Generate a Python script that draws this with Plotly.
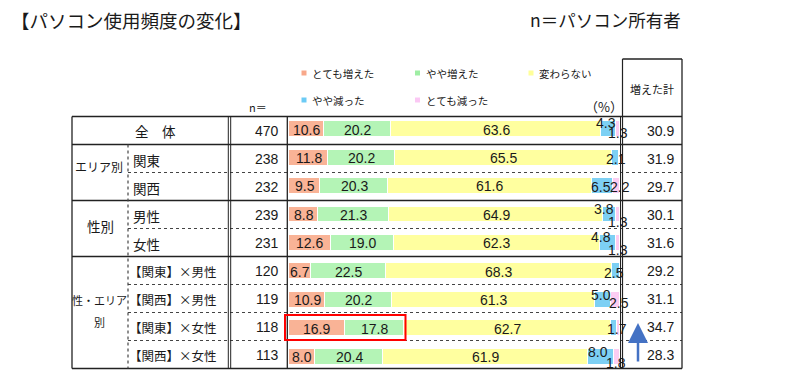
import plotly.graph_objects as go

W, H = 810, 377

# ---------------- data ----------------
group_labels = ["全　体", "エリア別", "性別", "性・エリア<br>別"]
row_labels = ["", "関東", "関西", "男性", "女性",
              "【関東】×男性", "【関西】×男性", "【関東】×女性", "【関西】×女性"]
n_values = [470, 238, 232, 239, 231, 120, 119, 118, 113]
series_names = ["とても増えた", "やや増えた", "変わらない", "やや減った", "とても減った"]
very_inc = [10.6, 11.8, 9.5, 8.8, 12.6, 6.7, 10.9, 16.9, 8.0]
some_inc = [20.2, 20.2, 20.3, 21.3, 19.0, 22.5, 20.2, 17.8, 20.4]
no_change = [63.6, 65.5, 61.6, 64.9, 62.3, 68.3, 61.3, 62.7, 61.9]
some_dec = [4.3, 2.1, 6.5, 3.8, 4.8, 2.5, 5.0, 1.7, 8.0]
very_dec = [1.3, 0.4, 2.2, 1.3, 1.3, 0.0, 2.5, 0.8, 1.8]
inc_total = [30.9, 31.9, 29.7, 30.1, 31.6, 29.2, 31.1, 34.7, 28.3]

# ---------------- style ----------------
colors = ["#F9B396", "#B4F4B6", "#FFFF9F", "#7DD0F4", "#FCCDF2"]
legend_colors = ["#F8A88A", "#9FEEA4", "#FFFF99", "#6CCBF5", "#FBC8F4"]
# label offsets (px) for small segments: dx right, dy down
blue_dx = [-2.5, 1, -1, -5.5, -6.5, -1.5, -2, 3, -3]
blue_dy = [-6.5, 1, 0.5, -6, -6.5, 1.5, -5, 0.5, -5]
pink_dx = [0, 0, 3, 0, 0, 0, 3, 0, -1.5]
pink_dy = [3.5, 0, 0.5, 7, 6.5, 0, 3, 0, 6]

NUM_FONT = "Liberation Sans, Arial, sans-serif"
JP_FONT = "Noto Sans CJK JP, sans-serif"
TXT = "#1a1a1a"


def X(px):
    return px / W


def Y(py):
    return 1 - py / H


fig = go.Figure()
series = [very_inc, some_inc, no_change, some_dec, very_dec]
ys = list(range(len(n_values)))
for name, vals, col in zip(series_names, series, colors):
    fig.add_trace(go.Bar(
        y=ys, x=vals, orientation="h", name=name, width=0.56,
        marker=dict(color=col, line=dict(color="white", width=1.2)),
        showlegend=False, hoverinfo="skip",
    ))

annotations = []
shapes = []


def ptext(px, py, text, size, family=JP_FONT, anchor="center"):
    annotations.append(dict(x=X(px), y=Y(py), xref="paper", yref="paper",
                            text=text, showarrow=False,
                            xanchor=anchor, yanchor="middle",
                            font=dict(family=family, size=size, color=TXT)))


# bar labels
for i in ys:
    cum = 0.0
    for s, vals in enumerate(series):
        v = vals[i]
        center = cum + v / 2
        cum += v
        if v < 1.0:
            continue
        dx = dy = 0
        if s == 3:
            dx, dy = blue_dx[i], blue_dy[i]
        elif s == 4:
            dx, dy = pink_dx[i], pink_dy[i]
        annotations.append(dict(
            x=center, y=i, xref="x", yref="y", text=f"{v:.1f}",
            showarrow=False, xshift=dx, yshift=-dy,
            xanchor="center", yanchor="middle",
            font=dict(family=NUM_FONT, size=14, color=TXT),
        ))

# table geometry (pixels)
top, row_h = 116.5, 28
L, C1, C2a, C2b, C3, C4a, C4b, R = 72, 128, 228.3, 230.7, 287.3, 620.5, 622.5, 682


def hline(y, x0, x1, dash="solid", width=1.3, color="#222222"):
    shapes.append(dict(type="line", xref="paper", yref="paper",
                       x0=X(x0), x1=X(x1), y0=Y(y), y1=Y(y),
                       line=dict(color=color, width=width, dash=dash)))


def vline(x, y0, y1, dash="solid", width=1.3, color="#222222"):
    shapes.append(dict(type="line", xref="paper", yref="paper",
                       x0=X(x), x1=X(x), y0=Y(y0), y1=Y(y1),
                       line=dict(color=color, width=width, dash=dash)))


bottom = top + row_h * 9
solid_rows = {0, 1, 3, 5, 9}
for k in range(10):
    y = top + row_h * k
    if k in solid_rows:
        hline(y, L, R)
    else:
        hline(y, C1, R, dash="dot", width=1.2, color="#444444")

vline(L, top, bottom)
vline(C1, top + row_h, bottom, dash="dot", width=1.2, color="#444444")
vline(C2a, top, bottom, width=1)
vline(C2b, top, bottom, width=1)
vline(C3, top, bottom)
vline(C4a, top, bottom, width=1)
vline(C4b, 59, bottom, width=1.2)
vline(R, 59, bottom)
hline(59, C4b, R)

# red highlight box
shapes.append(dict(type="rect", xref="paper", yref="paper",
                   x0=X(285), x1=X(405.5), y0=Y(340), y1=Y(315),
                   line=dict(color="#FF0000", width=2)))

# group labels
ptext(155, top + row_h * 0.5, group_labels[0], 13.5)
ptext(99, top + row_h * 1.8, group_labels[1], 12)
ptext(100, top + row_h * 3.9, group_labels[2], 13.5)
for k, part in enumerate(group_labels[3].split("<br>")):
    ptext(99, 300 + 22 * k, part, 11)

for i in ys:
    cy = top + row_h * (i + 0.5)
    lab = row_labels[i]
    if lab:
        if lab.startswith("【"):
            ptext(127, cy + 1, lab, 12.5, anchor="left")
        else:
            ptext(131, cy + 1, lab, 13.5, anchor="left")
    ptext(281, cy, str(n_values[i]), 14, family=NUM_FONT, anchor="right")
    ptext(660, cy, f"{inc_total[i]:.1f}", 14, family=NUM_FONT)

# headers
ptext(652, 89, "増えた計", 11)
ptext(258, 107, "n＝", 11)
ptext(625, 106, "（%）", 13, anchor="right")

# titles
ptext(9, 20, "【パソコン使用頻度の変化】", 18.5, anchor="left")
ptext(683, 20, "n＝パソコン所有者", 17.5, anchor="right")

# legend
leg_pos = [(304, 73), (417.5, 73), (531, 73), (304, 100), (417.5, 100)]
for name, col, (lx, ly) in zip(series_names, legend_colors, leg_pos):
    shapes.append(dict(type="rect", xref="paper", yref="paper",
                       x0=X(lx - 2.5), x1=X(lx + 2.5), y0=Y(ly + 2.5), y1=Y(ly - 2.5),
                       fillcolor=col, line=dict(width=0)))
    ptext(lx + 6, ly, name, 10.5, anchor="left")

# arrow
annotations.append(dict(x=X(638), y=Y(323), xref="paper", yref="paper",
                        text="", showarrow=True, ax=0, ay=40,
                        arrowhead=2, arrowsize=1.6, arrowwidth=2.5,
                        arrowcolor="#4472C4", standoff=0, startstandoff=0))

fig.update_layout(
    width=W, height=H, autosize=False,
    margin=dict(l=0, r=0, t=0, b=0),
    paper_bgcolor="white", plot_bgcolor="white",
    barmode="stack", bargap=0,
    xaxis=dict(domain=[X(289), X(620)], range=[0, 100], visible=False, fixedrange=True),
    yaxis=dict(domain=[Y(371.2), Y(115.3)], range=[8.5, -0.5], visible=False, fixedrange=True),
    annotations=annotations, shapes=shapes,
)

fig.write_html(
    "out.html",
    config={"displayModeBar": False},
    post_script="document.body.style.margin='0';document.body.style.overflow='hidden';",
)
